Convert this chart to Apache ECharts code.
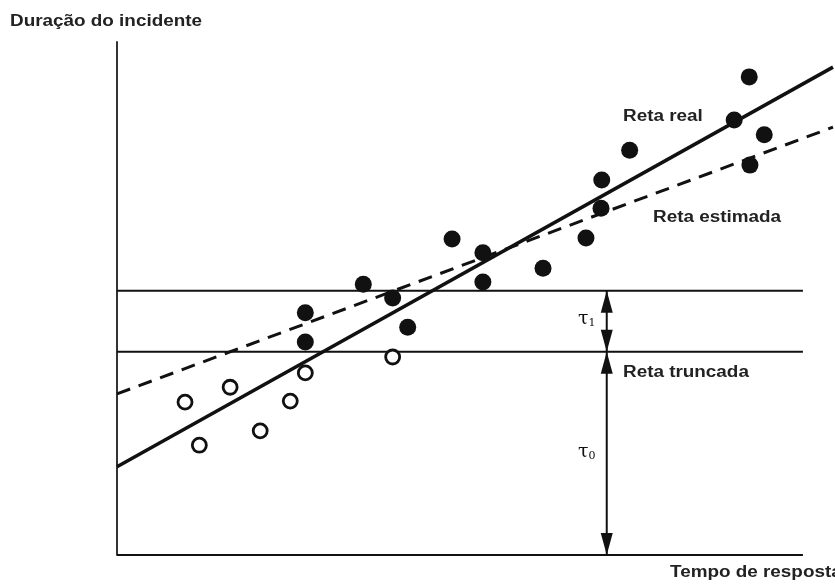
<!DOCTYPE html>
<html><head><meta charset="utf-8">
<script src="https://cdn.jsdelivr.net/npm/echarts@6/dist/echarts.min.js"></script>
<style>html,body{margin:0;background:#fff}#c{width:835px;height:587px}</style>
</head><body><div id="c"></div>
<script>
// Censored (truncated) observations: open circles
const censoredX = [9.5, 11.5, 15.8, 20.0, 24.2, 26.3, 38.5];
const censoredY = [29.8, 21.4, 32.7, 24.2, 30.0, 35.5, 38.6];
// Observed incidents: filled circles
const observedX = [26.3, 26.3, 34.4, 38.5, 40.6, 46.8, 51.1, 51.1, 59.5, 65.5, 67.6, 67.7, 71.6, 86.2, 88.3, 88.4, 90.4];
const observedY = [41.5, 47.2, 52.8, 50.1, 44.4, 61.6, 58.9, 53.2, 55.9, 61.8, 67.6, 73.1, 78.9, 84.8, 93.2, 76.0, 81.9];
// Regression lines (endpoints)
const realLineX = [0, 100];
const realLineY = [17.2, 95.1];
const estimatedLineX = [0, 100];
const estimatedLineY = [31.4, 83.4];
// Truncation levels: tau0 and tau0 + tau1
const truncLevels = [39.6, 51.5];
const baseLevel = 0;
const levelLineEnd = 95.8;
const tauX = 68.4;

const pairs = (xs, ys) => xs.map((x, i) => [x, ys[i]]);
const ink = '#111';
const headW = 12, headH = 22;

const chart = echarts.init(document.getElementById('c'), null, {renderer: 'canvas'});

const hLine = (y) => ({
  type: 'line', data: [[0, y], [levelLineEnd, y]], symbol: 'none', silent: true, clip: false,
  lineStyle: {color: ink, width: 2}, z: 2
});

// Arrow heads: triangle tip sits exactly on the level it points to
const arrowHeads = (points, up) => ({
  type: 'scatter', data: points, symbol: 'triangle', symbolSize: [headW, headH],
  symbolRotate: up ? 0 : 180, symbolOffset: [0, up ? headH / 2 : -headH / 2],
  silent: true, clip: false, z: 4, itemStyle: {color: ink, opacity: 1}
});

const textBase = {fill: '#222', font: 'bold 16px "Liberation Sans", Arial, sans-serif', textVerticalAlign: 'top'};
const label = (txt, x, y) => ({type: 'text', x, y, scaleX: 1.18, style: Object.assign({text: txt}, textBase), z: 100});
const tauLabel = (sub, x, y) => ({
  type: 'text', x, y, z: 100,
  style: {
    text: '{t|τ}{s|' + sub + '}', textVerticalAlign: 'top',
    rich: {
      t: {fill: ink, font: '19px "DejaVu Serif", serif'},
      s: {fill: ink, font: '11px "DejaVu Serif", serif', padding: [9, 0, 0, 0]}
    }
  }
});

chart.setOption({
  animation: false,
  backgroundColor: '#fff',
  grid: {left: 117, top: 42, right: 2, bottom: 32},
  xAxis: {type: 'value', min: 0, max: 100, axisLine: {show: false}, axisTick: {show: false}, axisLabel: {show: false}, splitLine: {show: false}},
  yAxis: {type: 'value', min: 0, max: 100, axisLine: {show: true, lineStyle: {color: '#333', width: 2}}, axisTick: {show: false}, axisLabel: {show: false}, splitLine: {show: false}},
  series: [
    hLine(baseLevel),
    hLine(truncLevels[0]),
    hLine(truncLevels[1]),
    {
      type: 'line', data: pairs(estimatedLineX, estimatedLineY), symbol: 'none', silent: true, clip: false, z: 3,
      lineStyle: {color: ink, width: 3, type: [14, 9]}
    },
    {
      type: 'line', data: pairs(realLineX, realLineY), symbol: 'none', silent: true, clip: false, z: 3,
      lineStyle: {color: ink, width: 3.5}
    },
    // tau shafts
    {
      type: 'line', data: [[tauX, baseLevel], [tauX, truncLevels[1]]], symbol: 'none', silent: true, clip: false, z: 3,
      lineStyle: {color: ink, width: 2}
    },
    arrowHeads([[tauX, truncLevels[1]], [tauX, truncLevels[0]]], true),
    arrowHeads([[tauX, truncLevels[0]], [tauX, baseLevel]], false),
    {
      type: 'scatter', data: pairs(censoredX, censoredY), symbol: 'circle', symbolSize: 14, silent: true, z: 5,
      itemStyle: {color: '#fff', borderColor: ink, borderWidth: 2.8, opacity: 1}
    },
    {
      type: 'scatter', data: pairs(observedX, observedY), symbol: 'circle', symbolSize: 17, silent: true, z: 5,
      itemStyle: {color: ink, opacity: 1}
    }
  ],
  graphic: [
    label('Duração do incidente', 10, 14),
    label('Tempo de resposta', 670, 565),
    label('Reta real', 623, 109),
    label('Reta estimada', 653, 210),
    label('Reta truncada', 623, 365),
    tauLabel('1', 578, 309),
    tauLabel('0', 578, 442)
  ]
});
</script>
</body></html>
